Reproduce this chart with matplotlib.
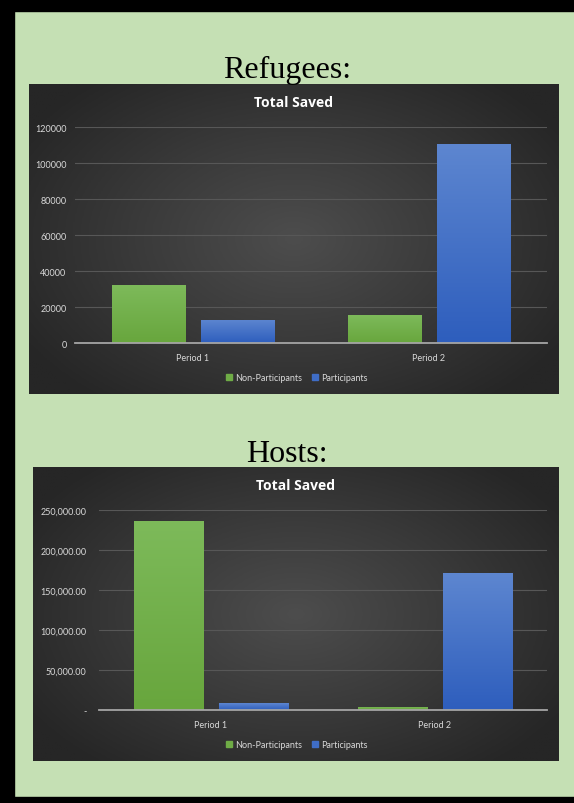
import numpy as np
import matplotlib.pyplot as plt
from matplotlib.patches import Rectangle
from matplotlib.lines import Line2D
from matplotlib.ticker import FuncFormatter
from matplotlib.colors import LinearSegmentedColormap

periods = ["Period 1", "Period 2"]
series_names = ["Non-Participants", "Participants"]

refugees_non = [32200, 15500]
refugees_part = [13000, 110800]
refugee_ticks = [0, 20000, 40000, 60000, 80000, 100000, 120000]

hosts_non = [236500, 3800]
hosts_part = [8700, 171000]
host_ticks = [0, 50000, 100000, 150000, 200000, 250000]

W, H = 574, 804
GREEN = "#6fac46"
BLUE = "#3f6dc6"
TXT = "#d9d9d9"
plt.rcParams["font.family"] = ["Lato", "DejaVu Sans"]

bg_cmap = LinearSegmentedColormap.from_list("bg", ["#4d4d4d", "#3a3a3a", "#262626"])
green_cmap = LinearSegmentedColormap.from_list("g", ["#68a63d", "#7dba5a"])
blue_cmap = LinearSegmentedColormap.from_list("b", ["#2e5ebd", "#5d86d0"])

fig = plt.figure(figsize=(W / 100, H / 100), dpi=100)
fig.patch.set_facecolor("#c5e0b4")


def box(x0, y0, x1, y1):
    # pixel box (top-left origin) -> figure fraction rect
    return [x0 / W, 1 - y1 / H, (x1 - x0) / W, (y1 - y0) / H]


# black frame on top, left and bottom
for r in [box(0, 0, W, 12), box(0, 0, 14, H), box(0, 798, W, H)]:
    fig.patches.append(Rectangle((r[0], r[1]), r[2], r[3], transform=fig.transFigure,
                                 color="black", zorder=0))

yy, xx = np.mgrid[-1:1:200j, -1:1:300j]
grad = np.clip(np.sqrt(xx ** 2 + (yy * 0.9) ** 2) / 1.2, 0, 1)
vgrad = np.linspace(0, 1, 100).reshape(-1, 1)


def shade(ax, bars, cmap):
    for b in bars:
        x0, y0 = b.get_x(), b.get_y()
        im = ax.imshow(vgrad, cmap=cmap, aspect="auto", origin="lower", zorder=3,
                       extent=[x0, x0 + b.get_width(), y0, y0 + b.get_height()])
        im.set_clip_path(b)


def chart(heading, heading_y, panel, plot, non, part, ticks, ymax, fmt, pad, legend_y):
    fig.text(287 / W, 1 - heading_y / H, heading, family="Liberation Serif", fontsize=23,
             ha="center", va="baseline", color="black")

    bg = fig.add_axes(box(*panel))
    bg.imshow(grad, cmap=bg_cmap, vmin=0, vmax=1, aspect="auto",
              extent=[0, 1, 0, 1], origin="lower")
    bg.set_xlim(0, 1)
    bg.set_ylim(0, 1)
    bg.axis("off")
    bg.text(0.5, 1 - 18 / (panel[3] - panel[1]), "Total Saved", color="white",
            family=["Open Sans", "DejaVu Sans"], fontsize=10, fontweight="bold",
            ha="center", va="center")

    ax = fig.add_axes(box(*plot))
    ax.patch.set_alpha(0)
    x = np.arange(len(periods))
    b1 = ax.bar(x - 0.19, non, width=0.31, color=GREEN, edgecolor="#5e9a3a", linewidth=0.5, zorder=3)
    b2 = ax.bar(x + 0.19, part, width=0.31, color=BLUE, edgecolor="#3560b5", linewidth=0.5, zorder=3)
    shade(ax, b1, green_cmap)
    shade(ax, b2, blue_cmap)
    ax.set_xlim(-0.5, 1.5)
    ax.set_ylim(0, ymax)
    ax.set_yticks(ticks)
    ax.yaxis.set_major_formatter(FuncFormatter(fmt))
    ax.set_xticks(x)
    ax.set_xticklabels(periods)
    ax.grid(axis="y", color="#575757", linewidth=0.8, zorder=0)
    for s in ["top", "right", "left"]:
        ax.spines[s].set_visible(False)
    ax.spines["bottom"].set_color("#a5a5a5")
    ax.spines["bottom"].set_linewidth(1.3)
    ax.spines["bottom"].set_zorder(4)
    ax.tick_params(axis="both", length=0, colors=TXT, labelsize=6.5)
    ax.tick_params(axis="y", pad=pad)
    ax.tick_params(axis="x", pad=7)

    handles = [Line2D([], [], marker="s", ls="none", color=GREEN, markersize=5),
               Line2D([], [], marker="s", ls="none", color=BLUE, markersize=5)]
    fig.legend(handles, series_names, loc="center", bbox_to_anchor=(296 / W, 1 - legend_y / H),
               ncol=2, frameon=False, fontsize=6.5, labelcolor=TXT, handletextpad=0.1,
               columnspacing=1.0, handlelength=1.0)


chart("Refugees:", 78, (29, 85, 559, 395), (75, 128, 547, 344),
      refugees_non, refugees_part, refugee_ticks, 120000,
      lambda v, p: f"{v:.0f}", 6, 379)

chart("Hosts:", 462, (33, 468, 559, 762), (99, 511, 547, 711),
      hosts_non, hosts_part, host_ticks, 250000,
      lambda v, p: "-" if v == 0 else f"{v:,.2f}", 9, 746)

fig.savefig("out.png", dpi=100, facecolor=fig.get_facecolor())
